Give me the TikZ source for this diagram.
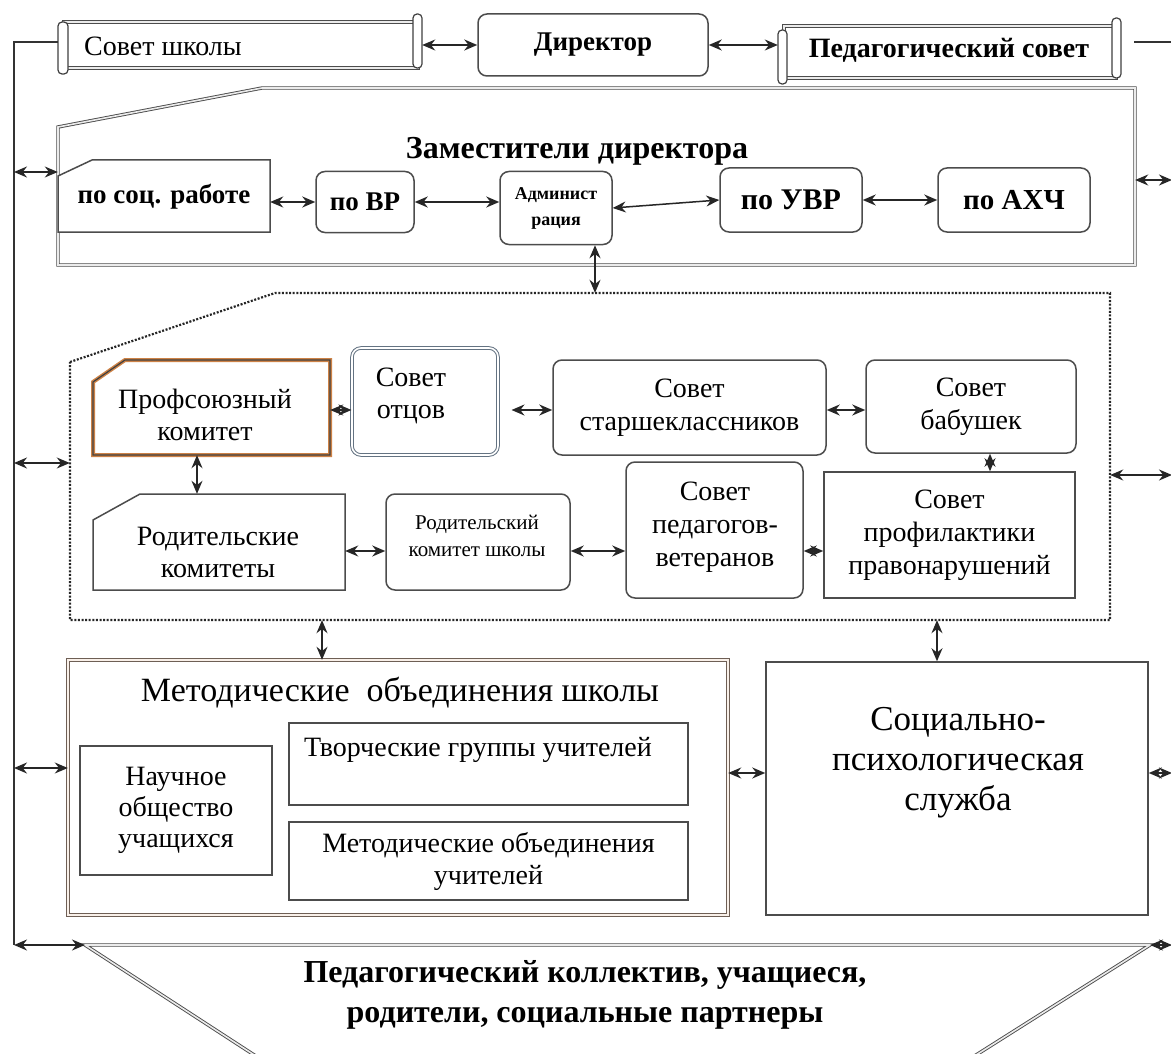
\documentclass[tikz,border=0pt]{standalone}
\usepackage{fontspec}
\setmainfont{Liberation Serif}
\usetikzlibrary{arrows.meta,calc}
\newcommand\fsz[2]{\fontsize{#1}{#2}\selectfont}
\definecolor{orng}{RGB}{205,130,70}
\definecolor{slategr}{RGB}{100,115,130}
\definecolor{brgr}{RGB}{110,95,85}
\begin{document}
\begin{tikzpicture}[x=1pt,y=-1pt,
  ln/.style={draw=black!80, line width=1.2pt},
  rbox/.style={draw=black!70, line width=1.5pt, rounded corners=9pt, fill=white, inner sep=0pt, align=center},
  pbox/.style={draw=black!70, line width=1.5pt, fill=white, inner sep=0pt, align=center},
  ghost/.style={inner sep=0pt, align=center},
  txt/.style={inner sep=0pt, align=center},
  arr/.style={{Stealth[length=13pt,width=11pt]}-{Stealth[length=13pt,width=11pt]}, line width=1.5pt, draw=black!85},
  dbl/.style={draw=black!70, double=black!8, double distance=1.6pt, line width=0.9pt},
  dots/.style={draw=black!85, line width=2.2pt, dash pattern=on 2pt off 1.6pt},
  pill/.style={draw=black!75, line width=1.2pt, fill=white, rounded corners=4pt},
  reg/.style={font={\fsz{28}{33}}},
  bld/.style={font={\fsz{27}{32}\bfseries}},
]
\useasboundingbox (0,0) rectangle (1171,1054);

% ---------- top row ----------
\draw[dbl, fill=white] (64,22) rectangle (418,68);
\draw[pill] (58,22) rectangle (68,74);
\draw[pill] (413,14) rectangle (422,68);
\node[ghost, minimum width=364, minimum height=60] (ss) at (240,44) {};
\node[txt, anchor=west, reg] (ssT) at (84,46) {Совет школы};

\node[rbox, bld, minimum width=230, minimum height=62] (dir) at (593,45) {Директор};

\draw[dbl, fill=white] (784,26) rectangle (1116,78);
\draw[pill] (778,30) rectangle (787,84);
\draw[pill] (1112,18) rectangle (1121,78);
\node[ghost, minimum width=343, minimum height=66] (ps) at (949.5,51) {};
\node[txt, font={\fsz{28}{32}\bfseries}] (psT) at (949,50) {Педагогический совет};

\draw[arr] (ss.east |- dir.west) -- (dir.west);
\draw[arr] (dir.east) -- (dir.east -| ps.west);

% outer lines
\coordinate (TL) at (14,42);
\coordinate (BL) at (14,945);
\coordinate (TR) at (1171,42);
\draw[ln] (ss.west |- TL) -- (TL) -- (BL);
\draw[ln] ($(ps.east |- TR)+(13,0)$) -- (TR);

% ---------- deputies ----------
\draw[dbl, fill=white] (58,127) -- (262,88) -- (1135,88) -- (1135,265) -- (58,265) -- cycle;
\node[ghost, minimum width=1077, minimum height=177] (dep) at (596.5,176.5) {};
\node[txt, font={\fsz{32}{36}\bfseries}] (depT) at (577,151) {Заместители директора};

\draw[pbox] (58,176) -- (92,160) -- (270,160) -- (270,232) -- (58,232) -- cycle;
\node[ghost, bld, minimum width=212, minimum height=72] (soc) at (164,197) {по соц. работе};
\node[rbox, font={\fsz{27}{32}\bfseries}, minimum width=98, minimum height=61] (vr) at (365,202) {по ВР};
\node[rbox, font={\fsz{18}{26}\bfseries}, minimum width=112, minimum height=73] (adm) at (556,208) {Админист\\рация};
\node[rbox, font={\fsz{30}{34}\bfseries}, minimum width=142, minimum height=64] (uvr) at (791,200) {по УВР};
\node[rbox, font={\fsz{29}{34}\bfseries}, minimum width=152, minimum height=64] (ahch) at (1014,200) {по АХЧ};

\draw[arr] (vr.west -| soc.east) -- (vr.west);
\draw[arr] (vr.east) -- (vr.east -| adm.west);
\draw[arr] (adm.east) -- (uvr.west);
\draw[arr] (uvr.east) -- (ahch.west);

% ---------- dotted region ----------
\draw[dots] (70,362) -- (275,293) -- (1110,293) -- (1110,620) -- (70,620) -- cycle;
\node[ghost, minimum width=1040, minimum height=327] (mid) at (590,456.5) {};

\coordinate (ax) at (595,0);
\draw[arr] (adm.south -| ax) -- (mid.north -| ax);

\draw[line width=4pt, draw=orng, fill=white, line join=miter] (93,382) -- (125,360) -- (330,360) -- (330,455) -- (93,455) -- cycle;
\draw[line width=1.2pt, draw=black!75] (93,382) -- (125,360) -- (330,360) -- (330,455) -- (93,455) -- cycle;
\node[ghost, minimum width=237, minimum height=95] (prof) at (211.5,407.5) {};
\node[txt, font={\fsz{28}{32}}] (profT) at (205,415) {Профсоюзный\\комитет};

\node[rbox, draw=slategr, double=white, double distance=1.6pt, line width=1pt, minimum width=146, minimum height=107] (otc) at (425,401.5) {};
\node[txt, font={\fsz{28}{32}}] (otcT) at (411,396) {Совет\\отцов};

\node[rbox, reg, minimum width=273, minimum height=95] (star) at (689.5,407.5) {Совет\\старшеклассников};
\node[rbox, reg, minimum width=210, minimum height=93] (bab) at (971,406.5) {Совет\\бабушек};

\draw[pbox] (93,520) -- (140,494) -- (345,494) -- (345,590) -- (93,590) -- cycle;
\node[ghost, minimum width=252, minimum height=96] (rod) at (219,542) {};
\node[txt, font={\fsz{28}{32}}] (rodT) at (218,552) {Родительские\\комитеты};

\node[rbox, minimum width=184, minimum height=96] (rks) at (478,542) {};
\node[txt, font={\fsz{21}{27}}] (rksT) at (477,536) {Родительский\\комитет школы};

\node[rbox, minimum width=177, minimum height=136] (vet) at (714.5,530) {};
\node[txt, reg] (vetT) at (715,527) {Совет\\педагогов-\\ветеранов};

\node[pbox, reg, minimum width=251, minimum height=126] (prev) at (949.5,535) {Совет\\профилактики\\правонарушений};

\coordinate (row1) at (0,410);
\coordinate (row2) at (0,551);
\coordinate (cx1) at (197,0);
\coordinate (cx2) at (990,0);
\draw[arr] (prof.east |- row1) -- (otc.west |- row1);
\draw[arr] ($(otc.east |- row1)+(13,0)$) -- (star.west |- row1);
\draw[arr] (star.east |- row1) -- (bab.west |- row1);
\draw[arr] (prof.south -| cx1) -- (rod.north -| cx1);
\draw[arr] (bab.south -| cx2) -- (prev.north -| cx2);
\draw[arr] (rod.east |- row2) -- (rks.west |- row2);
\draw[arr] (rks.east |- row2) -- (vet.west |- row2);
\draw[arr] (vet.east |- row2) -- (prev.west |- row2);

% ---------- methodical ----------
\draw[draw=brgr, double=orng!12, double distance=1.4pt, line width=0.9pt, fill=white] (68,660) rectangle (728,915);
\node[ghost, minimum width=660, minimum height=255] (met) at (398,787.5) {};
\node[txt, font={\fsz{34}{38}}] (metT) at (400,693) {Методические\ \ объединения школы};

\node[pbox, font={\fsz{28}{31}}, minimum width=192, minimum height=129] (nou) at (176,810.5) {Научное\\общество\\учащихся};
\node[pbox, minimum width=399, minimum height=82] (tvg) at (488.5,764) {};
\node[txt, reg] (tvgT) at (478,750) {Творческие группы учителей};
\node[pbox, font={\fsz{28}{32}}, minimum width=399, minimum height=78] (mou) at (488.5,861) {Методические объединения\\учителей};

\node[pbox, minimum width=382, minimum height=253] (sps) at (957,788.5) {};
\node[txt, font={\fsz{35}{40}}] (spsT) at (958,763) {Социально-\\психологическая\\служба};

\coordinate (cx3) at (322,0);
\coordinate (cx4) at (937,0);
\coordinate (row3) at (0,773);
\draw[arr] (mid.south -| cx3) -- (met.north -| cx3);
\draw[arr] (mid.south -| cx4) -- (sps.north -| cx4);
\draw[arr] (met.east |- row3) -- (sps.west |- row3);

% ---------- bottom ----------
\coordinate (trapL) at (85,945);
\coordinate (trapR) at (1150,945);
\draw[dbl, fill=white] (trapL) -- (trapR) -- (965,1062) -- (265,1062) -- cycle;
\node[txt, font={\fsz{32}{40}\bfseries}] (trapT) at (585,995) {Педагогический коллектив, учащиеся,\\родители, социальные партнеры};

% ---------- side arrows ----------
\coordinate (L1) at (14,172);
\coordinate (L2) at (14,463);
\coordinate (L3) at (14,768);
\coordinate (R1) at (1172,180);
\coordinate (R2) at (1172,475);
\coordinate (R3) at (1172,773);
\coordinate (R4) at (1172,945);
\draw[arr] (L1) -- (L1 -| dep.west);
\draw[arr] (L2) -- (L2 -| mid.west);
\draw[arr] (L3) -- (L3 -| met.west);
\draw[arr] (BL) -- (trapL);
\draw[arr] (R1) -- (R1 -| dep.east);
\draw[arr] (R2) -- (R2 -| mid.east);
\draw[arr] (R3) -- (R3 -| sps.east);
\draw[arr] (R4) -- (trapR);
\end{tikzpicture}
\end{document}
